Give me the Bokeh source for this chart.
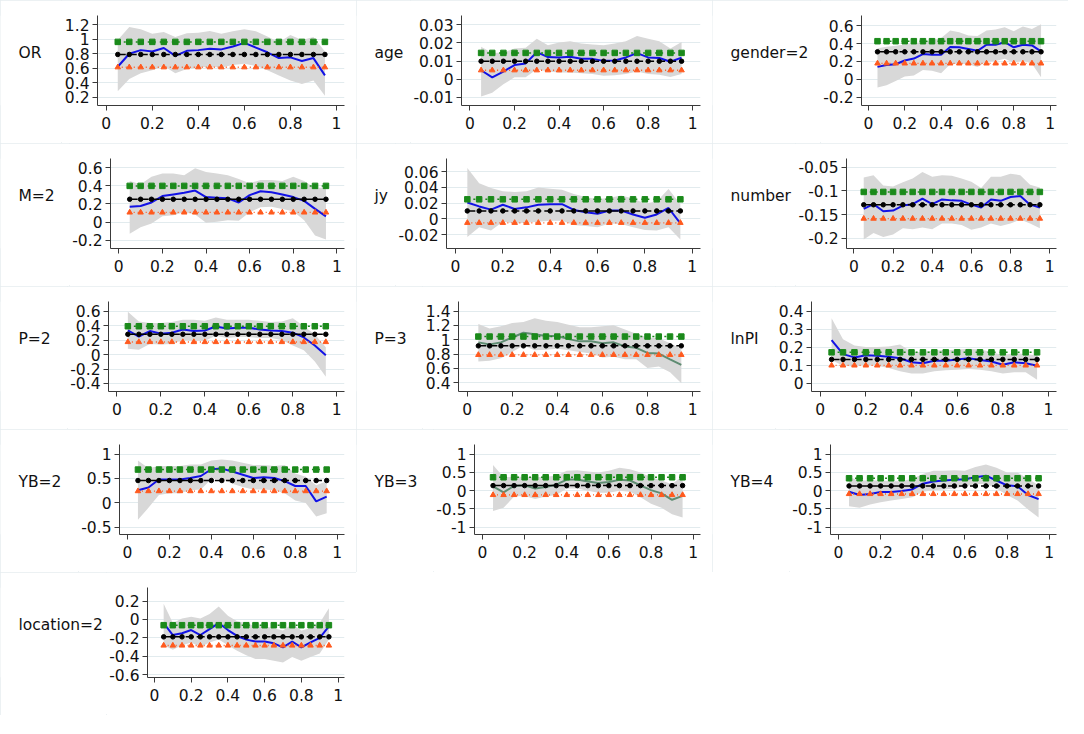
from bokeh.plotting import figure
from bokeh.layouts import row, column
from bokeh.models import Range1d, FixedTicker, NumeralTickFormatter, ColumnDataSource
from bokeh.core.properties import value
from bokeh.embed import file_html
from bokeh.resources import INLINE

# ---------------- data ----------------
QUANTILES = [0.05, 0.10, 0.15, 0.20, 0.25, 0.30, 0.35, 0.40, 0.45, 0.50,
             0.55, 0.60, 0.65, 0.70, 0.75, 0.80, 0.85, 0.90, 0.95]
X_TICKS = [0, 0.2, 0.4, 0.6, 0.8, 1]

# each variable: quantile coefficient, CI low, CI high, OLS (estimate, low, high), y ticks
OR_q = [0.62, 0.80, 0.85, 0.83, 0.88, 0.77, 0.84, 0.85, 0.87, 0.86, 0.90, 0.95, 0.885, 0.82, 0.74, 0.75, 0.70, 0.74, 0.50]
OR_lo = [0.28, 0.45, 0.53, 0.57, 0.63, 0.53, 0.59, 0.61, 0.62, 0.61, 0.645, 0.66, 0.63, 0.57, 0.50, 0.43, 0.38, 0.43, 0.22]
OR_hi = [0.99, 1.17, 1.14, 1.075, 1.10, 1.03, 1.085, 1.09, 1.115, 1.075, 1.11, 1.14, 1.11, 1.04, 0.96, 1.06, 0.99, 1.03, 0.83]
OR_ols = [0.79, 0.613, 0.964]
OR_ticks = [0.2, 0.4, 0.6, 0.8, 1, 1.2]

age_q = [0.0049, 0.0010, 0.0042, 0.0078, 0.0087, 0.0149, 0.0122, 0.0119, 0.0124, 0.0113, 0.0112, 0.0101, 0.0103, 0.0120, 0.0144, 0.0120, 0.0117, 0.0096, 0.0119]
age_lo = [-0.0096, -0.0075, -0.0029, 0.0010, 0.0010, 0.0055, 0.0042, 0.0037, 0.0037, 0.0032, 0.0028, 0.0019, 0.0021, 0.0028, 0.0042, 0.0028, 0.0024, 0.0012, 0.0028]
age_hi = [0.0179, 0.0144, 0.0147, 0.0170, 0.0174, 0.0224, 0.0188, 0.0202, 0.0209, 0.0197, 0.0192, 0.0188, 0.0197, 0.0209, 0.0238, 0.0224, 0.0209, 0.0170, 0.0206]
age_ols = [0.0099, 0.0049, 0.0145]
age_ticks = [-0.01, 0, 0.01, 0.02, 0.03]

gender_q = [0.139, 0.160, 0.168, 0.211, 0.232, 0.283, 0.276, 0.276, 0.362, 0.359, 0.340, 0.319, 0.387, 0.387, 0.416, 0.359, 0.387, 0.380, 0.312]
gender_lo = [-0.092, -0.067, -0.020, 0.031, 0.041, 0.103, 0.095, 0.067, 0.168, 0.175, 0.168, 0.139, 0.196, 0.204, 0.229, 0.186, 0.211, 0.175, 0.023]
gender_hi = [0.348, 0.366, 0.377, 0.391, 0.400, 0.420, 0.438, 0.463, 0.546, 0.528, 0.492, 0.485, 0.546, 0.557, 0.582, 0.539, 0.593, 0.564, 0.618]
gender_ols = [0.308, 0.178, 0.427]
gender_ticks = [-0.2, 0, 0.2, 0.4, 0.6]

M_q = [0.170, 0.177, 0.216, 0.287, 0.305, 0.323, 0.348, 0.276, 0.269, 0.262, 0.216, 0.298, 0.340, 0.330, 0.305, 0.276, 0.234, 0.145, 0.063]
M_lo = [-0.129, -0.058, -0.015, 0.063, 0.074, 0.109, 0.084, -0.008, 0.003, 0.020, 0.013, 0.109, 0.163, 0.170, 0.145, 0.120, 0.020, -0.150, -0.193]
M_hi = [0.454, 0.419, 0.500, 0.536, 0.536, 0.518, 0.596, 0.554, 0.536, 0.518, 0.476, 0.430, 0.465, 0.465, 0.454, 0.500, 0.454, 0.376, 0.383]
M_ols = [0.252, 0.106, 0.400]
M_ticks = [-0.2, 0, 0.2, 0.4, 0.6]

jy_q = [0.0208, 0.0159, 0.0118, 0.0180, 0.0127, 0.0147, 0.0180, 0.0188, 0.0188, 0.0114, 0.0086, 0.0065, 0.0106, 0.0106, 0.0057, 0.0016, 0.0057, 0.0139, -0.0057]
jy_lo = [-0.0229, -0.0106, -0.0147, -0.0037, -0.0057, -0.0049, -0.0037, -0.0024, -0.0024, -0.0078, -0.0090, -0.0106, -0.0057, -0.0065, -0.0106, -0.0139, -0.0147, -0.0106, -0.0261]
jy_hi = [0.0645, 0.0453, 0.0392, 0.0351, 0.0343, 0.0351, 0.0400, 0.0384, 0.0371, 0.0318, 0.0278, 0.0249, 0.0270, 0.0298, 0.0261, 0.0196, 0.0220, 0.0380, 0.0188]
jy_ols = [0.0102, -0.0049, 0.0249]
jy_ticks = [-0.02, 0, 0.02, 0.04, 0.06]

number_q = [-0.138, -0.128, -0.143, -0.1415, -0.131, -0.128, -0.1165, -0.128, -0.118, -0.120, -0.121, -0.129, -0.135, -0.118, -0.121, -0.113, -0.111, -0.129, -0.135]
number_lo = [-0.2026, -0.189, -0.197, -0.192, -0.179, -0.181, -0.177, -0.181, -0.1687, -0.1687, -0.172, -0.182, -0.177, -0.1687, -0.174, -0.1687, -0.1605, -0.1687, -0.179]
number_hi = [-0.072, -0.067, -0.0887, -0.0907, -0.082, -0.0737, -0.060, -0.0703, -0.067, -0.068, -0.0737, -0.0805, -0.094, -0.0703, -0.0703, -0.0636, -0.067, -0.087, -0.0927]
number_ols = [-0.1293, -0.1585, -0.1022]
number_ticks = [-0.2, -0.15, -0.1, -0.05]

P2_q = [0.333, 0.249, 0.324, 0.289, 0.302, 0.347, 0.324, 0.333, 0.387, 0.360, 0.369, 0.369, 0.347, 0.333, 0.324, 0.302, 0.236, 0.124, -0.009]
P2_lo = [0.080, 0.067, 0.147, 0.138, 0.147, 0.200, 0.191, 0.191, 0.258, 0.227, 0.244, 0.244, 0.227, 0.227, 0.200, 0.124, 0.058, -0.098, -0.307]
P2_hi = [0.590, 0.458, 0.436, 0.436, 0.449, 0.480, 0.480, 0.467, 0.511, 0.480, 0.480, 0.480, 0.467, 0.449, 0.458, 0.502, 0.391, 0.280, 0.102]
P2_ols = [0.280, 0.173, 0.391]
P2_ticks = [-0.4, -0.2, 0, 0.2, 0.4, 0.6]

P3_q = [0.963, 0.932, 0.963, 1.031, 1.098, 1.076, 1.053, 1.053, 1.008, 0.977, 0.977, 0.950, 0.963, 0.905, 0.887, 0.815, 0.806, 0.725, 0.649]
P3_lo = [0.694, 0.707, 0.739, 0.829, 0.918, 0.851, 0.860, 0.873, 0.851, 0.829, 0.806, 0.752, 0.761, 0.725, 0.725, 0.604, 0.626, 0.545, 0.392]
P3_hi = [1.220, 1.157, 1.188, 1.233, 1.247, 1.301, 1.265, 1.247, 1.211, 1.175, 1.175, 1.188, 1.202, 1.143, 1.085, 1.031, 1.022, 0.950, 0.873]
P3_ols = [0.914, 0.788, 1.044]
P3_ticks = [0.4, 0.6, 0.8, 1, 1.2, 1.4]

lnPI_q = [0.240, 0.162, 0.144, 0.156, 0.153, 0.148, 0.139, 0.117, 0.112, 0.126, 0.126, 0.133, 0.139, 0.130, 0.121, 0.103, 0.117, 0.112, 0.098]
lnPI_lo = [0.130, 0.098, 0.094, 0.103, 0.098, 0.085, 0.068, 0.055, 0.055, 0.068, 0.073, 0.076, 0.080, 0.076, 0.068, 0.055, 0.062, 0.062, 0.020]
lnPI_hi = [0.361, 0.245, 0.210, 0.201, 0.201, 0.204, 0.215, 0.174, 0.174, 0.183, 0.183, 0.187, 0.192, 0.187, 0.174, 0.156, 0.169, 0.162, 0.156]
lnPI_ols = [0.133, 0.0996, 0.172]
lnPI_ticks = [0, 0.1, 0.2, 0.3, 0.4]

YB2_q = [0.260, 0.313, 0.478, 0.478, 0.478, 0.511, 0.551, 0.690, 0.703, 0.643, 0.577, 0.511, 0.524, 0.511, 0.445, 0.346, 0.346, 0.029, 0.128]
YB2_lo = [-0.347, -0.103, 0.161, 0.194, 0.194, 0.260, 0.273, 0.491, 0.491, 0.392, 0.326, 0.273, 0.273, 0.260, 0.194, 0.049, -0.004, -0.281, -0.215]
YB2_hi = [0.868, 0.709, 0.756, 0.756, 0.756, 0.789, 0.789, 0.868, 0.888, 0.868, 0.822, 0.775, 0.775, 0.756, 0.775, 0.604, 0.538, 0.359, 0.445]
YB2_ols = [0.458, 0.240, 0.683]
YB2_ticks = [-0.5, 0, 0.5, 1]

YB3_q = [0.119, -0.048, 0.128, 0.145, 0.057, 0.101, 0.163, 0.304, 0.304, 0.251, 0.207, 0.234, 0.295, 0.278, 0.145, 0.013, -0.075, -0.251, -0.145]
YB3_lo = [-0.559, -0.471, -0.163, -0.145, -0.233, -0.163, -0.119, 0.057, 0.057, -0.004, -0.057, -0.057, -0.004, -0.031, -0.181, -0.357, -0.471, -0.647, -0.736]
YB3_hi = [0.700, 0.366, 0.383, 0.383, 0.366, 0.383, 0.410, 0.542, 0.560, 0.524, 0.498, 0.542, 0.630, 0.586, 0.498, 0.366, 0.278, 0.172, 0.410]
YB3_ols = [0.137, -0.119, 0.366]
YB3_ticks = [-1, -0.5, 0, 0.5, 1]

YB4_q = [-0.031, -0.119, -0.092, -0.040, -0.040, -0.013, 0.031, 0.189, 0.251, 0.278, 0.295, 0.313, 0.366, 0.410, 0.278, 0.145, 0.119, -0.119, -0.233]
YB4_lo = [-0.427, -0.471, -0.383, -0.322, -0.269, -0.233, -0.181, -0.031, 0.013, 0.031, 0.057, 0.119, 0.172, 0.189, 0.057, -0.119, -0.269, -0.515, -0.736]
YB4_hi = [0.366, 0.278, 0.278, 0.278, 0.260, 0.260, 0.322, 0.454, 0.542, 0.542, 0.560, 0.542, 0.648, 0.718, 0.630, 0.498, 0.498, 0.322, 0.145]
YB4_ols = [0.128, -0.092, 0.339]
YB4_ticks = [-1, -0.5, 0, 0.5, 1]

loc_q = [-0.040, -0.170, -0.150, -0.116, -0.170, -0.105, -0.040, -0.116, -0.180, -0.220, -0.240, -0.240, -0.260, -0.305, -0.240, -0.305, -0.250, -0.200, -0.075]
loc_lo = [-0.28, -0.33, -0.28, -0.25, -0.30, -0.25, -0.22, -0.28, -0.34, -0.39, -0.43, -0.43, -0.45, -0.47, -0.41, -0.45, -0.41, -0.37, -0.22]
loc_hi = [0.17, -0.04, 0.01, 0.03, 0.01, 0.06, 0.14, 0.04, -0.02, -0.04, -0.075, -0.075, -0.095, -0.12, -0.05, -0.12, -0.095, -0.04, 0.12]
loc_ols = [-0.19, -0.284, -0.063]
loc_ticks = [-0.6, -0.4, -0.2, 0, 0.2]

# ---------------- layout / style ----------------
W, H = 356, 143
TOP, BOTTOM, RIGHT = 15, 38, 12
X0, X1 = -0.038, 1.035
LABEL_PX = 18
FONT = "DejaVu Sans"
FS_PX = 15.5
FS = f"{FS_PX}px"
NAME_FS = "15.5px"
BLUE = "#1212e6"
GREYGREEN = "#5f8c72"
# approximate DejaVu Sans advance widths (em) used to reserve room for y tick labels
CHAR_EM = {"-": 0.361, ".": 0.318}

panels = [
    # name, q, lo, hi, ols, ticks, y view range, frame left px, line colour
    ("OR", OR_q, OR_lo, OR_hi, OR_ols, OR_ticks, (0.084, 1.329), 95, BLUE),
    ("age", age_q, age_lo, age_hi, age_ols, age_ticks, (-0.0146, 0.0352), 104, BLUE),
    ("gender=2", gender_q, gender_lo, gender_hi, gender_ols, gender_ticks, (-0.294, 0.715), 148, BLUE),
    ("M=2", M_q, M_lo, M_hi, M_ols, M_ticks, (-0.293, 0.703), 109, BLUE),
    ("jy", jy_q, jy_lo, jy_hi, jy_ols, jy_ticks, (-0.0375, 0.0767), 89, BLUE),
    ("number", number_q, number_lo, number_hi, number_ols, number_ticks, (-0.2215, -0.0317), 133, BLUE),
    ("P=2", P2_q, P2_lo, P2_hi, P2_ols, P2_ticks, (-0.511, 0.733), 107, BLUE),
    ("P=3", P3_q, P3_lo, P3_hi, P3_ols, P3_ticks, (0.275, 1.535), 100, GREYGREEN),
    ("lnPI", lnPI_q, lnPI_lo, lnPI_hi, lnPI_ols, lnPI_ticks, (-0.0445, 0.453), 97, BLUE),
    ("YB=2", YB2_q, YB2_lo, YB2_hi, YB2_ols, YB2_ticks, (-0.651, 1.198), 118, BLUE),
    ("YB=3", YB3_q, YB3_lo, YB3_hi, YB3_ols, YB3_ticks, (-1.2025, 1.264), 117, GREYGREEN),
    ("YB=4", YB4_q, YB4_lo, YB4_hi, YB4_ols, YB4_ticks, (-1.2025, 1.264), 117, BLUE),
    ("location=2", loc_q, loc_lo, loc_hi, loc_ols, loc_ticks, (-0.632, 0.347), 146, BLUE),
]


def tick_text(t):
    s = f"{t:.3f}".rstrip("0").rstrip(".")
    return "0" if s in ("-0", "") else s


def axis_room(ticks):
    w = max(sum(CHAR_EM.get(c, 0.636) for c in tick_text(t)) for t in ticks) * FS_PX
    return int(w + 5 + 3 + 2)


def make_panel(name, q, lo, hi, ols, ticks, yr, left, qcolor):
    aw = axis_room(ticks)
    lw = left - aw
    # narrow figure holding the horizontal variable name
    lab = figure(width=lw, height=H, x_range=Range1d(0, lw), y_range=Range1d(0, H),
                 output_backend="svg", toolbar_location=None, min_border=0,
                 x_axis_location=None, y_axis_location=None,
                 background_fill_color="white", border_fill_color="white")
    lab.outline_line_color = None
    lab.grid.visible = False
    mid = H - (TOP + (H - TOP - BOTTOM) / 2)
    lab.text(x=[LABEL_PX], y=[mid], text=[name], text_align="left", text_baseline="middle",
             text_font=value(FONT), text_font_size=NAME_FS, text_color="#111111")

    p = figure(width=W - lw, height=H, x_range=Range1d(X0, X1), y_range=Range1d(*yr),
               output_backend="svg", toolbar_location=None,
               min_border_left=aw, min_border_right=RIGHT,
               min_border_top=TOP, min_border_bottom=BOTTOM,
               background_fill_color="white", border_fill_color="white")
    p.outline_line_color = None
    p.xgrid.visible = False
    p.ygrid.grid_line_color = "#e2ebee"
    p.ygrid.grid_line_width = 1

    p.xaxis.ticker = FixedTicker(ticks=X_TICKS)
    p.yaxis.ticker = FixedTicker(ticks=ticks)
    for ax in (p.xaxis[0], p.yaxis[0]):
        ax.formatter = NumeralTickFormatter(format="0.[000]")
        ax.major_label_text_font = FONT
        ax.major_label_text_font_size = FS
        ax.major_label_text_color = "#111111"
        ax.axis_line_color = "#3a3a3a"
        ax.major_tick_line_color = "#3a3a3a"
        ax.minor_tick_line_color = None
        ax.major_tick_out = 5
        ax.major_tick_in = 0
    p.xaxis.major_label_standoff = 6
    p.yaxis.major_label_standoff = 3

    n = len(QUANTILES)
    src = ColumnDataSource(dict(
        x=QUANTILES, q=q, lo=lo, hi=hi,
        ols=[ols[0]] * n, ols_lo=[ols[1]] * n, ols_hi=[ols[2]] * n,
    ))
    p.varea(x="x", y1="lo", y2="hi", source=src, fill_color="#d8d8d8")
    p.line(x="x", y="q", source=src, line_color=qcolor, line_width=2)

    p.line(x="x", y="ols", source=src, line_color="black", line_width=1.5, line_dash="8 3")
    p.scatter(x="x", y="ols", source=src, marker="circle", size=4.5,
              fill_color="black", line_color="black")

    p.line(x="x", y="ols_hi", source=src, line_color="#1b8a1b", line_width=1.5, line_dash="2 4")
    p.scatter(x="x", y="ols_hi", source=src, marker="square", size=5.5,
              fill_color="#1b8a1b", line_color="#1b8a1b")

    p.line(x="x", y="ols_lo", source=src, line_color="#ff5a1e", line_width=1.3, line_dash="1 3")
    p.scatter(x="x", y="ols_lo", source=src, marker="triangle", size=5.5,
              fill_color="#ff5a1e", line_color="#ff5a1e")

    return row(lab, p, styles={"outline": "1px solid #e6ecef", "outline-offset": "-1px"})


cells = [make_panel(*cfg) for cfg in panels]
layout = column(
    row(cells[0], cells[1], cells[2]),
    row(cells[3], cells[4], cells[5]),
    row(cells[6], cells[7], cells[8]),
    row(cells[9], cells[10], cells[11]),
    row(cells[12]),
)

open("out.html", "w").write(file_html(layout, INLINE))
